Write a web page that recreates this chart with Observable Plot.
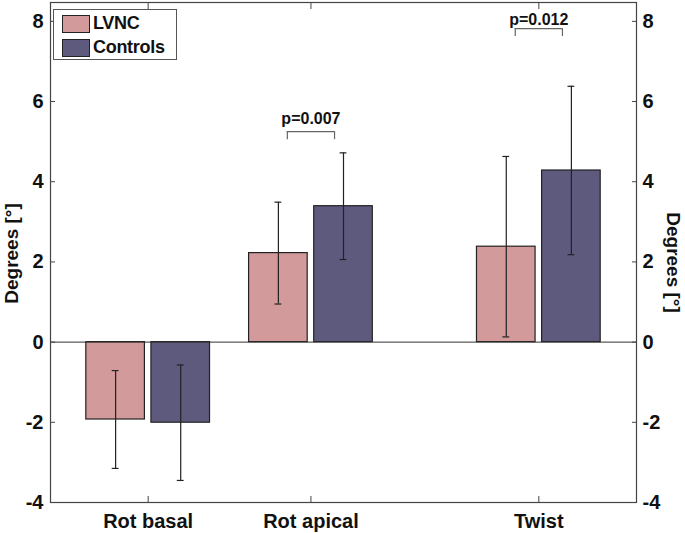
<!DOCTYPE html>
<html>
<head>
<meta charset="utf-8">
<script src="https://cdn.jsdelivr.net/npm/d3@7"></script>
<script src="https://cdn.jsdelivr.net/npm/@observablehq/plot@0.6"></script>
<style>
  html, body { margin: 0; padding: 0; background: #fff; }
  #wrap { position: relative; width: 685px; height: 533px; font-family: "Liberation Sans", Arial, sans-serif; }
  .legend { position: absolute; left: 53px; top: 9px; width: 124px; height: 51px; border: 1px solid #555; background: #fff; box-sizing: border-box; }
  .legend .row { position: absolute; left: 8px; height: 19px; display: flex; align-items: center; }
  .legend .sw { width: 28px; height: 18px; box-sizing: border-box; border: 1.5px solid #222; margin-right: 3px; }
  .legend .lab { font-weight: bold; font-size: 18px; color: #111; letter-spacing: -0.3px; }
</style>
</head>
<body>
<div id="wrap"></div>
<script>
// ---- data ----
const categories = ["Rot basal", "Rot apical", "Twist"];
const xPositions = [1, 2, 3.4];
const groups = ["LVNC", "Controls"];
const groupColors = ["#D29A9A", "#5E5A7E"];
const lvncMean = [-1.93, 2.22, 2.38];
const lvncSD = [1.22, 1.27, 2.25];
const controlsMean = [-2.01, 3.39, 4.28];
const controlsSD = [1.44, 1.33, 2.10];
const yTicks = [-4, -2, 0, 2, 4, 6, 8];
const pLabels = ["p=0.007", "p=0.012"];
const pCategory = ["Rot apical", "Twist"];
const pBracketY = [5.25, 7.82];
const pTextY = [5.45, 7.9];

// ---- derived tables ----
const offset = {LVNC: -0.2, Controls: 0.2};
const halfW = 0.18;
const capW = 0.021;
const rows = categories.flatMap((c, i) => [
  {cat: c, group: "LVNC", x: xPositions[i] + offset.LVNC, mean: lvncMean[i], sd: lvncSD[i]},
  {cat: c, group: "Controls", x: xPositions[i] + offset.Controls, mean: controlsMean[i], sd: controlsSD[i]}
]);
const caps = rows.flatMap(d => [{x: d.x, y: d.mean - d.sd}, {x: d.x, y: d.mean + d.sd}]);
const pData = pLabels.map((t, i) => {
  const cx = xPositions[categories.indexOf(pCategory[i])];
  return {label: t, cx, x1: cx - 0.145, x2: cx + 0.145, by: pBracketY[i], ty: pTextY[i]};
});
const legs = pData.flatMap(d => [{x: d.x1, y1: d.by - 0.2, y2: d.by}, {x: d.x2, y1: d.by - 0.2, y2: d.by}]);

const fmtY = d => String(d);

const chart = Plot.plot({
  width: 685,
  height: 533,
  marginLeft: 50,
  marginRight: 49,
  marginTop: 2,
  marginBottom: 31,
  style: {fontFamily: '"Liberation Sans", Arial, sans-serif', fontWeight: "bold", fontSize: "20px", color: "#111", background: "#fff"},
  x: {type: "linear", domain: [0.4, 4.0]},
  y: {domain: [-4, 8.47]},
  color: {domain: groups, range: groupColors},
  marks: [
    Plot.rect(rows, {x1: d => d.x - halfW, x2: d => d.x + halfW, y1: 0, y2: "mean", fill: "group", stroke: "#222", strokeWidth: 1.2}),
    Plot.ruleY([0], {stroke: "#333", strokeWidth: 1}),
    Plot.ruleX(rows, {x: "x", y1: d => d.mean - d.sd, y2: d => d.mean + d.sd, stroke: "#222", strokeWidth: 1.2}),
    Plot.ruleY(caps, {y: "y", x1: d => d.x - capW, x2: d => d.x + capW, stroke: "#222", strokeWidth: 1.2}),
    Plot.ruleY(pData, {y: "by", x1: "x1", x2: "x2", stroke: "#666", strokeWidth: 1.2}),
    Plot.ruleX(legs, {x: "x", y1: "y1", y2: "y2", stroke: "#666", strokeWidth: 1.2}),
    Plot.text(pData, {x: "cx", y: "ty", text: "label", fontSize: 16, fontWeight: "bold", lineAnchor: "bottom", fill: "#111"}),
    Plot.axisY({anchor: "left", ticks: yTicks, tickSize: -5, tickPadding: 12, label: null, stroke: "#444", fontSize: 20, fill: "#111", tickFormat: fmtY}),
    Plot.axisY({anchor: "right", ticks: yTicks, tickSize: -5, tickPadding: 11, label: null, stroke: "#444", fontSize: 20, fill: "#111", tickFormat: fmtY}),
    Plot.axisX({anchor: "bottom", ticks: xPositions, tickSize: -6, tickPadding: 17.5, label: null, stroke: "#444", fontSize: 20, fill: "#111",
      tickFormat: d => categories[xPositions.indexOf(d)]}),
    Plot.axisX({anchor: "top", ticks: xPositions, tickSize: -6, label: null, stroke: "#444", tickFormat: () => ""}),
    Plot.frame({stroke: "#444", strokeWidth: 1.2}),
    Plot.text(["Degrees [°]"], {frameAnchor: "left", textAnchor: "middle", dx: -39, dy: 1, rotate: -90, fontSize: 19, fontWeight: "bold", fill: "#111", letterSpacing: 2}),
    Plot.text(["Degrees [°]"], {frameAnchor: "right", textAnchor: "middle", dx: 37, dy: 10, rotate: 90, fontSize: 19, fontWeight: "bold", fill: "#111", letterSpacing: 2})
  ]
});

const wrap = document.getElementById("wrap");
wrap.appendChild(chart);

// legend
const legend = document.createElement("div");
legend.className = "legend";
groups.forEach((g, i) => {
  const row = document.createElement("div");
  row.className = "row";
  row.style.top = (4 + i * 24) + "px";
  const sw = document.createElement("div");
  sw.className = "sw";
  sw.style.background = groupColors[i];
  const lab = document.createElement("span");
  lab.className = "lab";
  lab.textContent = g;
  row.appendChild(sw);
  row.appendChild(lab);
  legend.appendChild(row);
});
wrap.appendChild(legend);
</script>
</body>
</html>
